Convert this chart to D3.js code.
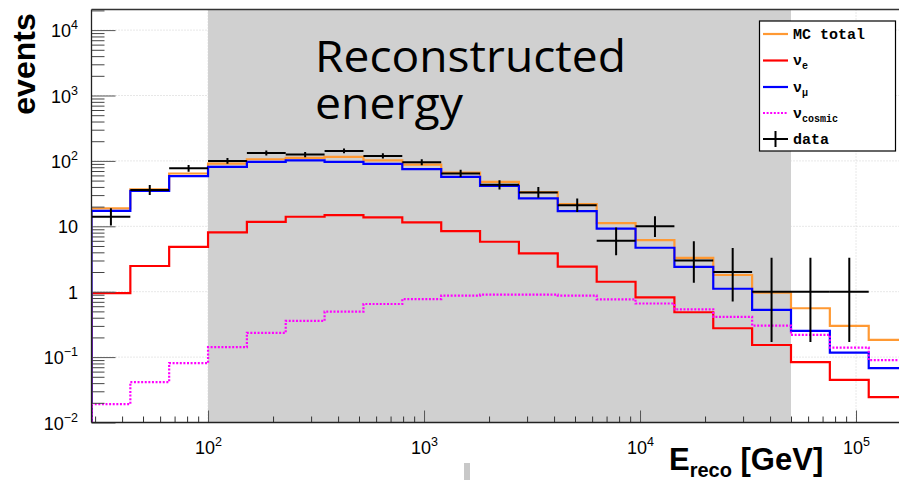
<!DOCTYPE html>
<html><head><meta charset="utf-8">
<script src="https://cdn.jsdelivr.net/npm/d3@7"></script>
<style>body{margin:0;background:#fff;overflow:hidden}</style>
</head><body><svg id="c" width="899" height="480"></svg>
<script>
// ---- data ----
const binEdges = [28.87, 43.68, 66.07, 100, 151.3, 228.9, 346.4, 524.2, 793.1, 1201, 1817, 2750, 4160, 6300, 9533, 14427, 21829, 33036, 50000, 75656, 114500, 173300];
const mcTotal  = [18.8, 36.6, 64.2, 91, 106, 111, 115, 102, 88, 66.5, 47.8, 33.3, 21.8, 11.2, 6.15, 3.3, 1.8, 0.965, 0.558, 0.30, 0.183];
const nuE      = [0.95, 2.47, 4.86, 8.07, 11.7, 14.0, 14.8, 13.7, 11.5, 8.45, 5.8, 3.85, 2.41, 1.42, 0.82, 0.485, 0.276, 0.153, 0.0836, 0.0449, 0.0244];
const nuMu     = [17.2, 34.8, 58.4, 81, 96.6, 102, 96.6, 90, 74.7, 57, 41.5, 26.7, 17.1, 9.2, 4.7, 2.4, 1.11, 0.526, 0.251, 0.117, 0.0677];
const nuCosmic = [0.0191, 0.0414, 0.0807, 0.1416, 0.234, 0.357, 0.495, 0.649, 0.77, 0.87, 0.90, 0.90, 0.87, 0.765, 0.66, 0.538, 0.411, 0.303, 0.218, 0.14, 0.0897];
const dataCounts = [14, 36, 77, 100, 132, 125, 142, 119, 95, 64, 43, 33, 21, 6, 10, 3, 2, 1, 1, 1];
const dataLow    = [10.3, 30.1, 68.4, 90.5, 121, 114, 130.6, 108.6, 85.8, 56.5, 36.6, 27.4, 16.5, 3.62, 6.89, 1.37, 0.71, 0.17, 0.17, 0.17];
const dataHigh   = [18.8, 42.9, 86.8, 111, 144, 137, 154.4, 130.4, 105.8, 73, 50.6, 39.8, 26.6, 9.58, 14.27, 5.92, 4.64, 3.30, 3.30, 3.30];
const yTickExps = [-2, -1, 0, 1, 2, 3, 4];
const xTickExps = [2, 3, 4, 5];
const shadedRange = [100, 50000];
const regionLabel = ["Reconstructed", "energy"];
const legendItems = [
  {key: "total", label: "MC total", sub: ""},
  {key: "e", label: "\u03bd", sub: "e"},
  {key: "mu", label: "\u03bd", sub: "\u03bc"},
  {key: "cosmic", label: "\u03bd", sub: "cosmic"},
  {key: "data", label: "data", sub: ""}
];

// ---- layout ----
const L = 91.5, R = 907.6, T = 9.5, B = 422.5;
const svg = d3.select("#c");
const x = d3.scaleLog().domain([binEdges[0], binEdges[binEdges.length - 1]]).range([L, R]);
const y = d3.scaleLog().domain([1e-2, Math.pow(10, 4.315)]).range([B, T]);
const styles = {
  total: {color: "#ff9933", dash: null},
  e: {color: "#ff0000", dash: null},
  mu: {color: "#0000ff", dash: null},
  cosmic: {color: "#ff00ff", dash: "2,1.6"}
};

svg.append("defs").append("clipPath").attr("id", "clip")
  .append("rect").attr("x", L).attr("y", T).attr("width", R - L).attr("height", B - T);

// grid
const grid = svg.append("g");
xTickExps.forEach(e => {
  grid.append("line").attr("x1", x(Math.pow(10, e))).attr("x2", x(Math.pow(10, e)))
    .attr("y1", T).attr("y2", B).attr("stroke", "#cfcfcf").attr("stroke-dasharray", "1,2");
});
yTickExps.forEach(e => {
  grid.append("line").attr("y1", y(Math.pow(10, e))).attr("y2", y(Math.pow(10, e)))
    .attr("x1", L).attr("x2", 899).attr("stroke", "#cfcfcf").attr("stroke-dasharray", "1,2");
});

// shaded region
svg.append("rect").attr("x", x(shadedRange[0])).attr("y", T)
  .attr("width", x(shadedRange[1]) - x(shadedRange[0])).attr("height", B - T)
  .attr("fill", "#d0d0d0");

// big label (two separate lines)
const bigW = [311, 148], bigY = [72, 119];
regionLabel.forEach((s, i) => {
  svg.append("text").attr("x", 315).attr("y", bigY[i])
    .attr("font-family", "'Open Sans', sans-serif").attr("font-size", 43).attr("fill", "#000")
    .attr("textLength", bigW[i]).attr("lengthAdjust", "spacingAndGlyphs").text(s);
});

// histograms
const plot = svg.append("g").attr("clip-path", "url(#clip)");
function histPath(vals) {
  let p = `M${x(binEdges[0])},${B}`;
  vals.forEach((v, i) => {
    p += `V${y(Math.max(v, 1e-3))}H${x(binEdges[i + 1])}`;
  });
  p += `V${B}`;
  return p;
}
[["total", mcTotal], ["e", nuE], ["mu", nuMu], ["cosmic", nuCosmic]].forEach(([k, vals]) => {
  plot.append("path").attr("d", histPath(vals)).attr("fill", "none")
    .attr("stroke", styles[k].color).attr("stroke-width", 2.2)
    .attr("stroke-dasharray", styles[k].dash);
});

// data points
dataCounts.forEach((n, i) => {
  const xc = Math.sqrt(binEdges[i] * binEdges[i + 1]);
  plot.append("line").attr("x1", x(binEdges[i])).attr("x2", x(binEdges[i + 1]))
    .attr("y1", y(n)).attr("y2", y(n)).attr("stroke", "#000").attr("stroke-width", 2);
  plot.append("line").attr("x1", x(xc)).attr("x2", x(xc))
    .attr("y1", y(dataLow[i])).attr("y2", y(dataHigh[i])).attr("stroke", "#000").attr("stroke-width", 2);
});

// axes
const fontTick = "'Liberation Sans', Arial, sans-serif";
const majorY = yTickExps.map(e => Math.pow(10, e));
const minorY = [];
yTickExps.forEach(e => { for (let m = 2; m <= 9; m++) { const v = m * Math.pow(10, e); if (v <= y.domain()[1]) minorY.push(v); } });
svg.append("g").attr("transform", `translate(${L},0)`)
  .call(d3.axisLeft(y).tickValues(minorY).tickSize(-13).tickFormat(""))
  .call(g => g.select(".domain").remove())
  .selectAll("line").attr("stroke", "#444");
const yAx = svg.append("g").attr("transform", `translate(${L},0)`)
  .call(d3.axisLeft(y).tickValues(majorY).tickSize(-24).tickFormat(""));
yAx.select(".domain").remove();
yAx.selectAll("line").attr("stroke", "#555");
yAx.selectAll(".tick").each(function(d) {
  const e = Math.round(Math.log10(d));
  const t = d3.select(this).append("text").attr("x", -13.5).attr("y", 6.5)
    .attr("text-anchor", "end").attr("fill", "#000")
    .attr("font-family", fontTick).attr("font-size", 18);
  if (e === 0) t.text("1");
  else if (e === 1) t.text("10");
  else {
    t.append("tspan").text("10");
    t.append("tspan").attr("dy", -8).attr("font-size", 12.5).text(e < 0 ? "\u2212" + (-e) : String(e));
  }
});

const majorX = xTickExps.map(e => Math.pow(10, e));
const minorX = [];
[1, 2, 3, 4, 5].forEach(e => { for (let m = 2; m <= 9; m++) { const v = m * Math.pow(10, e); if (v >= x.domain()[0] && v <= x.domain()[1]) minorX.push(v); } });
svg.append("g").attr("transform", `translate(0,${B})`)
  .call(d3.axisBottom(x).tickValues(minorX).tickSize(-6).tickFormat(""))
  .call(g => g.select(".domain").remove())
  .selectAll("line").attr("stroke", "#333");
const xAx = svg.append("g").attr("transform", `translate(0,${B})`)
  .call(d3.axisBottom(x).tickValues(majorX).tickSize(-12).tickFormat(""));
xAx.select(".domain").remove();
xAx.selectAll("line").attr("stroke", "#555");
xAx.selectAll(".tick").each(function(d) {
  const e = Math.round(Math.log10(d));
  const t = d3.select(this).append("text").attr("x", 0).attr("y", 31)
    .attr("text-anchor", "middle").attr("fill", "#000")
    .attr("font-family", fontTick).attr("font-size", 18);
  t.append("tspan").text("10");
  t.append("tspan").attr("dy", -8).attr("font-size", 12.5).text(String(e));
});

// frame lines
svg.append("line").attr("x1", L).attr("x2", 899).attr("y1", B).attr("y2", B).attr("stroke", "#222").attr("stroke-width", 1.3);
svg.append("line").attr("x1", L).attr("x2", L).attr("y1", T).attr("y2", B).attr("stroke", "#222").attr("stroke-width", 1.3);
svg.append("line").attr("x1", L).attr("x2", 899).attr("y1", T).attr("y2", T).attr("stroke", "#333").attr("stroke-width", 1.3);

// axis titles
svg.append("text").attr("transform", "translate(35,64) rotate(-90)")
  .attr("text-anchor", "middle").attr("font-family", fontTick).attr("font-weight", "bold")
  .attr("font-size", 32).attr("fill", "#000").text("events");
const xt = svg.append("text").attr("x", 669).attr("y", 470)
  .attr("font-family", fontTick).attr("font-weight", "bold").attr("font-size", 31).attr("fill", "#000");
xt.append("tspan").text("E");
xt.append("tspan").attr("dy", 7).attr("font-size", 20).text("reco");
xt.append("tspan").attr("dy", -7).text(" [GeV]");

// legend
const lg = svg.append("g");
lg.append("rect").attr("x", 759.5).attr("y", 21).attr("width", 136).attr("height", 130)
  .attr("fill", "#fff").attr("stroke", "#000").attr("stroke-width", 1.2);
const rowY = [34, 60.5, 87, 113, 139];
legendItems.forEach((it, i) => {
  const yy = rowY[i];
  if (it.key === "data") {
    lg.append("line").attr("x1", 763).attr("x2", 788).attr("y1", yy).attr("y2", yy).attr("stroke", "#000").attr("stroke-width", 2);
    lg.append("line").attr("x1", 775.5).attr("x2", 775.5).attr("y1", yy - 8).attr("y2", yy + 8).attr("stroke", "#000").attr("stroke-width", 2);
  } else {
    lg.append("line").attr("x1", 763).attr("x2", 788).attr("y1", yy).attr("y2", yy)
      .attr("stroke", styles[it.key].color).attr("stroke-width", 2.2).attr("stroke-dasharray", styles[it.key].dash);
  }
  const t = lg.append("text").attr("x", 793).attr("y", yy + 4.5)
    .attr("font-family", "'Liberation Mono', 'Courier New', monospace").attr("font-weight", "bold")
    .attr("font-size", 15).attr("fill", "#000");
  t.append("tspan").text(it.label);
  if (it.sub) t.append("tspan").attr("dy", 4).attr("font-size", 10).text(it.sub);
});

// small grey mark at bottom
svg.append("rect").attr("x", 464).attr("y", 463).attr("width", 6).attr("height", 17).attr("fill", "#c8c8c8");
</script>
</body></html>
